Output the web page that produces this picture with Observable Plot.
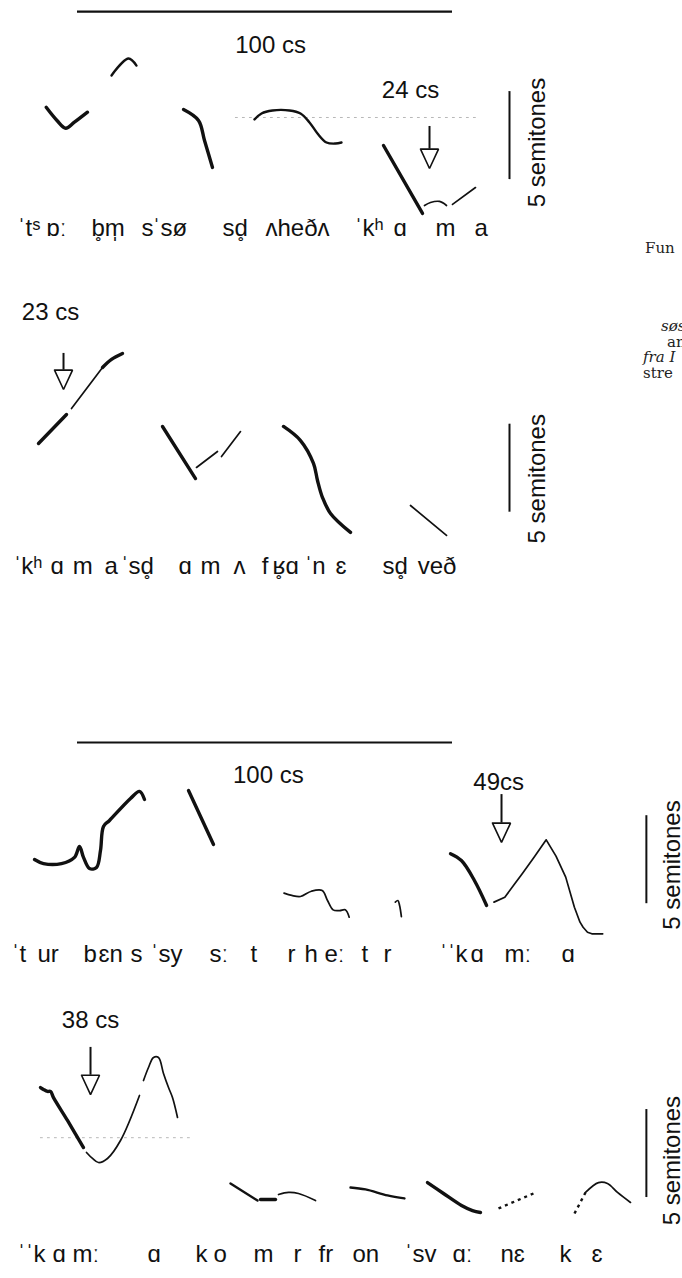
<!DOCTYPE html>
<html><head><meta charset="utf-8">
<script src="https://cdn.jsdelivr.net/npm/d3@7"></script>
<script src="https://cdn.jsdelivr.net/npm/@observablehq/plot@0.6"></script>
<style>
html,body{margin:0;padding:0;background:#fff}
body{width:682px;height:1278px;overflow:hidden;position:relative}
#chart svg{display:block}
.frag{position:absolute;font-family:"DejaVu Serif","Liberation Serif",serif;font-size:15px;color:#222;white-space:nowrap;line-height:1}
</style></head><body>
<div id="chart"></div>
<div class="frag" style="left:645px;top:241px">Fun</div>
<div class="frag" style="left:661px;top:319px;font-style:italic">søs</div>
<div class="frag" style="left:667px;top:335px">an</div>
<div class="frag" style="left:643px;top:350px;font-style:italic">fra I</div>
<div class="frag" style="left:643px;top:366px">stre</div>
<script>
// ---- data: time in centiseconds (cs), pitch in semitones (st) ----
// Panel 1
const p1Thick = [
  [[-8.35,10.41],[-5.47,9.66],[-3.15,9.22],[-0.83,9.56],[2.67,10.13]],
  [[28.27,10.28],[32.27,9.66],[33.87,8.52],[36.0,6.99]],
  [[81.6,8.24],[92.0,4.38]]
];
const p1Medium = [
  [[9.07,12.22],[13.6,13.18],[15.73,12.78]],
  [[47.2,9.72],[49.07,10.06],[52.0,10.23],[56.53,10.23],[59.47,10.06],[61.87,9.55],[64.0,8.92],[66.4,8.41],[68.8,8.35],[70.4,8.41]]
];
const p1Thin = [
  [[92.53,4.83],[94.13,5.0],[96.53,5.06],[98.4,4.83]],
  [[100,4.89],[106.13,5.85]]
];
const p1Ref = [[[42.1,9.83],[106.9,9.83]]];
const p1Labels = [[-16,"ˈtˢ"],[-8.27,"ɒː"],[3.73,"b\u0325m\u0329"],[17.07,"s"],[20,"ˈsø"],[38.67,"sd\u0325"],[50.13,"ʌheðʌ"],[73.87,"ˈkʰ"],[84.27,"ɑ"],[95.47,"m"],[105.87,"a"]];

// Panel 2
const p2Thick = [
  [[-10.4,14.6],[-2.93,16.25]],
  [[6.67,18.92],[9.07,19.38],[12.0,19.72]],
  [[22.67,15.57],[31.47,12.61]],
  [[54.93,15.57],[59.47,14.77],[62.93,13.47],[64.0,12.5],[65.33,11.53],[67.47,10.63],[72.8,9.55]]
];
const p2Thin = [
  [[-1.6,16.59],[6.67,18.92]],
  [[31.73,13.24],[37.33,14.15]],
  [[38.4,13.86],[43.47,15.28]],
  [[88.8,11.08],[98.4,9.38]]
];
const p2Labels = [[-17.1,"ˈkʰ"],[-7.2,"ɑ"],[-1.3,"m"],[7.2,"a"],[11.5,"ˈsd\u0325"],[26.9,"ɑ"],[32.8,"m"],[41.6,"ʌ"],[49.1,"f"],[52,"ʁ\u0325ɑ"],[60.5,"ˈn"],[68.8,"ɛ"],[81.3,"sd\u0325"],[90.7,"veð"]];

// Panel 3
const p3Thick = [
  [[-11.47,8.01],[-9.07,7.78],[-4.27,7.78],[-0.8,8.13],[0.53,8.75],[1.6,8.13],[3.2,7.5],[5.07,7.56],[6.13,8.52],[6.93,9.89],[8.53,10.23],[14.13,11.48],[16.53,11.88],[17.87,11.42]],
  [[29.6,11.93],[36.27,8.86]],
  [[99.47,8.34],[102.37,7.95],[105.84,6.82],[109.09,5.4]]
];
const p3Thin = [
  [[55.07,6.1],[57.15,5.97],[59.47,5.91],[62.37,6.21],[65.25,6.25],[66.67,5.68],[68.16,5.15],[69.89,5.11],[71.41,5.15],[72.45,4.73]],
  [[84.75,5.59],[85.44,5.68],[85.89,5.4],[86.37,4.77]]
];
const p3ThinAngular = [
  [[111.07,5.59],[113.95,5.87],[116.5,6.6],[118.59,7.2],[121.8,8.15],[124.99,9.13],[127.6,8.2],[130.19,7.01],[132.51,5.3],[134.0,4.45],[134.83,4.16],[136.0,3.88],[137.15,3.79],[140.05,3.79]]
];
const p3Labels = [[-17.6,"ˈt"],[-10.67,"ur"],[1.6,"b"],[5.6,"ɛn"],[14.13,"s"],[19.47,"ˈs"],[24.8,"y"],[35.2,"sː"],[46.13,"t"],[56,"r"],[60.53,"h"],[65.87,"eː"],[75.73,"t"],[81.6,"r"],[96.53,"ˈˈk"],[104.8,"ɑ"],[113.87,"mː"],[129.07,"ɑ"]];

// Panel 4
const p4Thick = [
  [[-9.87,10.85],[-9.07,10.74],[-8.0,10.63],[-7.2,10.63],[-6.4,10.28],[-2.67,8.98],[1.6,7.44]],
  [[48.8,4.49],[52.8,4.49]],
  [[93.33,5.45],[97.6,4.83],[102.4,4.15],[105.33,3.86],[107.47,3.75]]
];
const p4Medium = [
  [[72.8,5.17],[76.8,5.06],[82.67,4.72],[87.2,4.55]],
  [[40.8,5.4],[48.0,4.43]]
];
const p4Thin = [
  [[2.4,7.16],[4.0,6.82],[5.6,6.59],[8.0,6.82],[11.47,7.84],[16.53,10.4]],
  [[17.6,11.25],[18.93,11.99],[20.27,12.56],[21.6,12.56],[22.93,11.65],[24.27,10.85],[25.33,10.28],[26.67,9.15]],
  [[53.6,4.77],[56.27,4.89],[58.93,4.83],[63.47,4.43]],
  [[135.47,4.89],[138.93,5.45],[141.33,5.4],[144.0,4.89],[147.47,4.32]]
];
const p4Dotted = [
  [[112.27,3.98],[121.6,4.83]],
  [[132.53,3.69],[135.47,4.89]]
];
const p4Ref = [[[-9.9,8.0],[30,8.0]]];
const p4Labels = [[-16,"ˈˈk"],[-6.67,"ɑ"],[-1.33,"mː"],[18.67,"ɑ"],[31.47,"k"],[36.27,"o"],[46.93,"m"],[57.6,"r"],[64.27,"fr"],[73.33,"on"],[87.2,"ˈsv"],[100,"ɑː"],[112.8,"nɛ"],[128.53,"k"],[137.07,"ɛ"]];

// scale bars and arrows: [panel, ...]
const timeBars = [[1, 0, 100, 15.85, "100 cs", 51.5, 13.92], [3, 0, 100, 14.66, "100 cs", 50.9, 12.78]];
const semitoneBars = [[1, 115.2, 6.3, 11.3, 122.7, 8.41], [2, 115.2, 10.7, 15.7, 122.7, 12.6], [3, 151.7, 5.5, 10.5, 158.7, 7.7], [4, 151.7, 4.6, 9.6, 158.7, 6.7]];
const arrows = [[1, 93.87, 9.32, 6.93, "24 cs", 88.8, 11.36], [2, -3.73, 19.72, 17.67, "23 cs", -7.2, 22.05], [3, 113.07, 11.7, 8.98, "49cs", 112.3, 12.39], [4, 3.47, 13.13, 10.45, "38 cs", 3.47, 14.66]];
const labelLevels = [3.56, 7.65, 2.6, 1.4];

// ---- layout ----
const PX_PER_CS = 3.75, PX_PER_ST = 17.6, W = 682;
const X_DOMAIN = [-77 / PX_PER_CS, (W - 77) / PX_PER_CS];
const SANS = "Liberation Sans, Arial, Helvetica, DejaVu Sans, sans-serif";
const INK = "#111";

const series = list => list.flatMap((pts, i) => pts.map(([x, y]) => ({x, y, id: i})));
const lineMark = (list, opts) => Plot.line(series(list), {x: "x", y: "y", z: "id", stroke: INK, curve: "catmull-rom", strokeLinecap: "round", strokeLinejoin: "round", ...opts});

function panel(n, h, P) {
  const marks = [];
  if (P.ref) marks.push(lineMark(P.ref, {stroke: "#b8b8b8", strokeWidth: 1, strokeDasharray: "2,5", curve: "linear"}));
  if (P.thick) marks.push(lineMark(P.thick, {strokeWidth: 3.4}));
  if (P.medium) marks.push(lineMark(P.medium, {strokeWidth: 2.4}));
  if (P.thin) marks.push(lineMark(P.thin, {strokeWidth: 1.7}));
  if (P.angular) marks.push(lineMark(P.angular, {strokeWidth: 1.7, curve: "linear"}));
  if (P.dotted) marks.push(lineMark(P.dotted, {strokeWidth: 2.4, strokeDasharray: "3,4", strokeLinecap: "butt", curve: "linear"}));
  const tb = timeBars.filter(d => d[0] === n);
  marks.push(Plot.ruleY(tb, {y: d => d[3], x1: d => d[1], x2: d => d[2], stroke: INK, strokeWidth: 2.2}));
  marks.push(Plot.text(tb, {x: d => d[5], y: d => d[6], text: d => d[4], fontSize: 24, fontFamily: SANS, fill: INK}));
  const sb = semitoneBars.filter(d => d[0] === n);
  marks.push(Plot.ruleX(sb, {x: d => d[1], y1: d => d[2], y2: d => d[3], stroke: INK, strokeWidth: 2}));
  marks.push(Plot.text(sb, {x: d => d[4], y: d => d[5], text: () => "5 semitones", rotate: -90, fontSize: 24, fontFamily: SANS, fill: INK}));
  const ar = arrows.filter(d => d[0] === n);
  marks.push(Plot.ruleX(ar, {x: d => d[1], y1: d => d[2], y2: d => d[3] + 1.1, stroke: INK, strokeWidth: 2}));
  const heads = ar.flatMap((d, i) => [[d[1] - 2.4, d[3] + 1.1], [d[1] + 2.4, d[3] + 1.1], [d[1], d[3]], [d[1] - 2.4, d[3] + 1.1]].map(([x, y]) => ({x, y, id: i})));
  marks.push(Plot.line(heads, {x: "x", y: "y", z: "id", fill: "white", stroke: INK, strokeWidth: 1.6, strokeLinejoin: "miter"}));
  marks.push(Plot.text(ar, {x: d => d[5], y: d => d[6], text: d => d[4], fontSize: 24, fontFamily: SANS, fill: INK}));
  marks.push(Plot.text(P.labels, {x: d => d[0], y: () => labelLevels[n - 1], text: d => d[1], textAnchor: "start", fontSize: 24, fontFamily: SANS, fill: INK}));
  return Plot.plot({
    width: W, height: h, margin: 0,
    x: {domain: X_DOMAIN, axis: null},
    y: {domain: [0, h / PX_PER_ST], axis: null},
    style: {background: "white", overflow: "hidden"},
    marks
  });
}

const root = document.getElementById("chart");
root.append(panel(1, 290, {thick: p1Thick, medium: p1Medium, thin: p1Thin, ref: p1Ref, labels: p1Labels}));
root.append(panel(2, 410, {thick: p2Thick, thin: p2Thin, labels: p2Labels}));
root.append(panel(3, 300, {thick: p3Thick, thin: p3Thin, angular: p3ThinAngular, labels: p3Labels}));
root.append(panel(4, 278, {thick: p4Thick, medium: p4Medium, thin: p4Thin, dotted: p4Dotted, ref: p4Ref, labels: p4Labels}));
</script>
</body></html>
